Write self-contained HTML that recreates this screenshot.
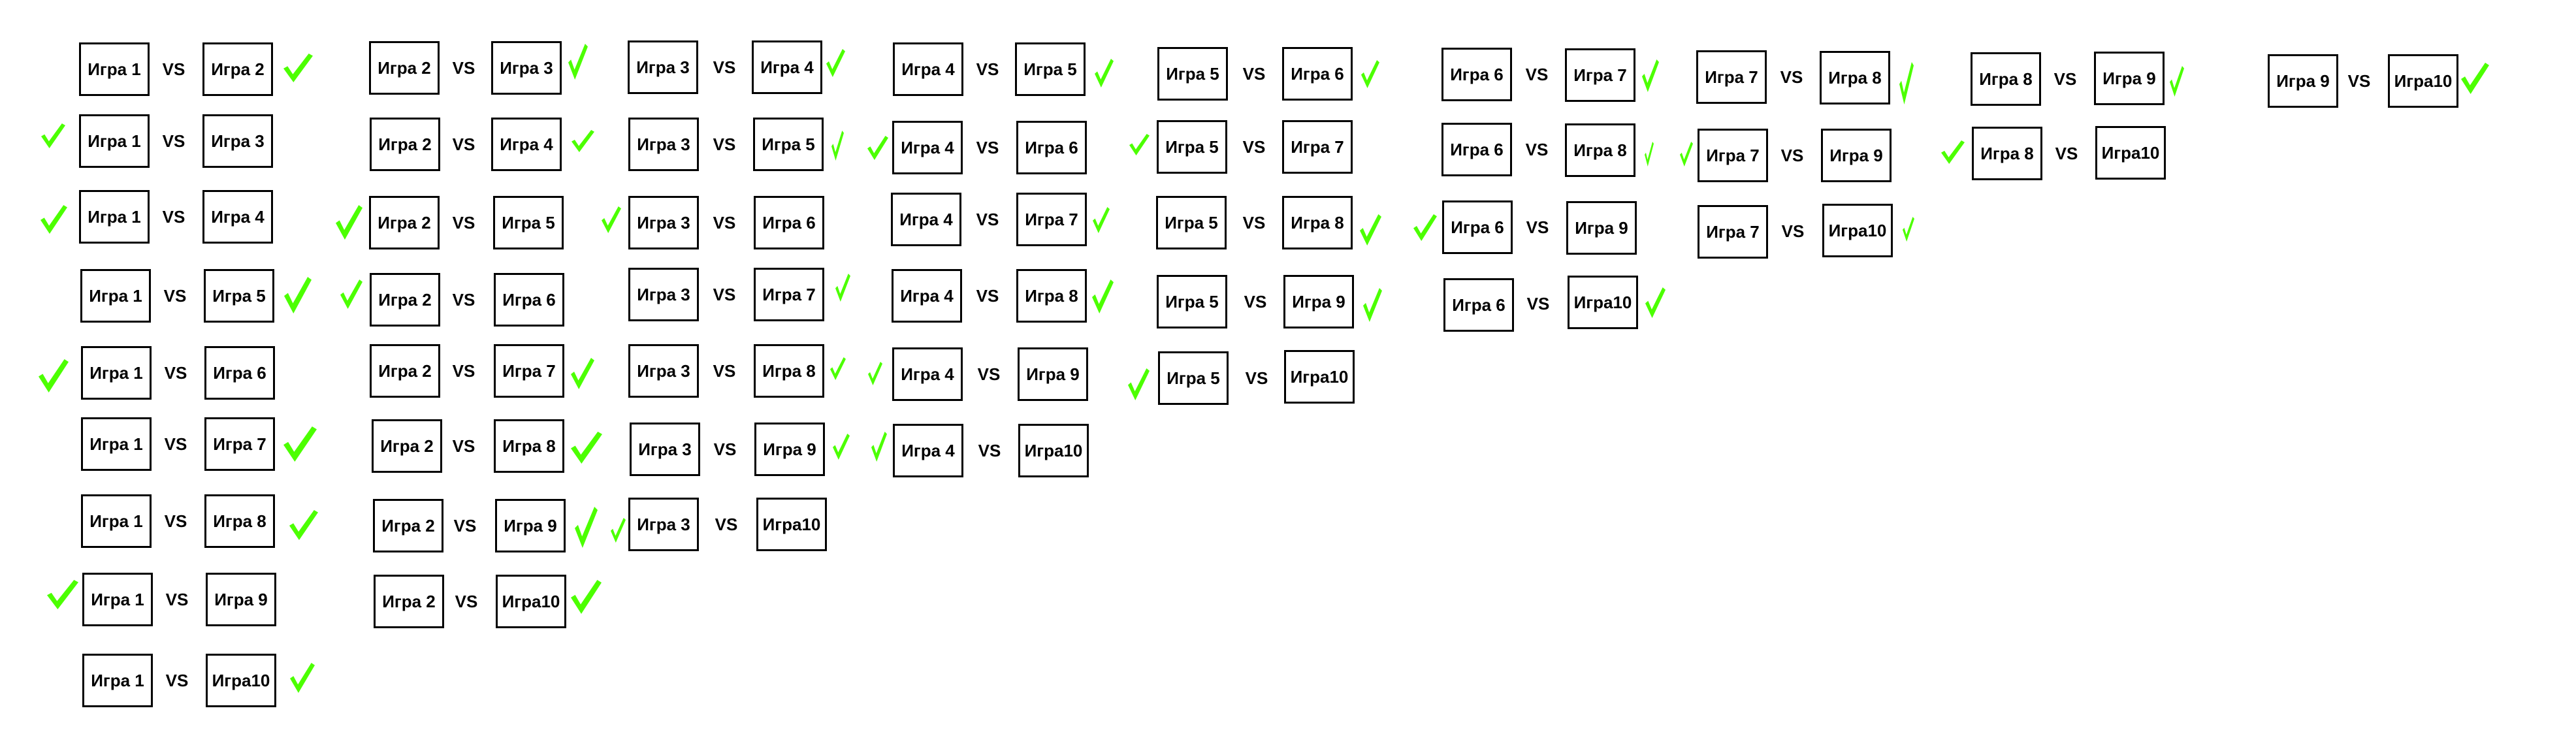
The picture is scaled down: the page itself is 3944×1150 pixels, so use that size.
<!DOCTYPE html>
<html><head><meta charset="utf-8">
<style>
html,body{margin:0;padding:0;background:#fff;}
body{width:3944px;height:1150px;position:relative;overflow:hidden;font-family:"Liberation Sans",sans-serif;}
.b{position:absolute;width:102px;height:76px;border:3px solid #000;display:flex;align-items:center;justify-content:center;font-weight:bold;font-size:26px;color:#000;white-space:nowrap;}
.v{position:absolute;width:60px;height:82px;line-height:82px;text-align:center;font-weight:bold;font-size:26px;color:#000;}
svg{position:absolute;left:0;top:0;}
</style></head><body>
<!-- col1 -->
<div class="b" style="left:121px;top:65px">Игра 1</div><div class="v" style="left:236px;top:65px">VS</div><div class="b" style="left:310px;top:65px">Игра 2</div>
<div class="b" style="left:121px;top:175px">Игра 1</div><div class="v" style="left:236px;top:175px">VS</div><div class="b" style="left:310px;top:175px">Игра 3</div>
<div class="b" style="left:121px;top:291px">Игра 1</div><div class="v" style="left:236px;top:291px">VS</div><div class="b" style="left:310px;top:291px">Игра 4</div>
<div class="b" style="left:123px;top:412px">Игра 1</div><div class="v" style="left:238px;top:412px">VS</div><div class="b" style="left:312px;top:412px">Игра 5</div>
<div class="b" style="left:124px;top:530px">Игра 1</div><div class="v" style="left:239px;top:530px">VS</div><div class="b" style="left:313px;top:530px">Игра 6</div>
<div class="b" style="left:124px;top:639px">Игра 1</div><div class="v" style="left:239px;top:639px">VS</div><div class="b" style="left:313px;top:639px">Игра 7</div>
<div class="b" style="left:124px;top:757px">Игра 1</div><div class="v" style="left:239px;top:757px">VS</div><div class="b" style="left:313px;top:757px">Игра 8</div>
<div class="b" style="left:126px;top:877px">Игра 1</div><div class="v" style="left:241px;top:877px">VS</div><div class="b" style="left:315px;top:877px">Игра 9</div>
<div class="b" style="left:126px;top:1001px">Игра 1</div><div class="v" style="left:241px;top:1001px">VS</div><div class="b" style="left:315px;top:1001px">Игра10</div>
<!-- col2 -->
<div class="b" style="left:565px;top:63px">Игра 2</div><div class="v" style="left:680px;top:63px">VS</div><div class="b" style="left:752px;top:63px">Игра 3</div>
<div class="b" style="left:566px;top:180px">Игра 2</div><div class="v" style="left:680px;top:180px">VS</div><div class="b" style="left:752px;top:180px">Игра 4</div>
<div class="b" style="left:565px;top:300px">Игра 2</div><div class="v" style="left:680px;top:300px">VS</div><div class="b" style="left:755px;top:300px">Игра 5</div>
<div class="b" style="left:566px;top:418px">Игра 2</div><div class="v" style="left:680px;top:418px">VS</div><div class="b" style="left:756px;top:418px">Игра 6</div>
<div class="b" style="left:566px;top:527px">Игра 2</div><div class="v" style="left:680px;top:527px">VS</div><div class="b" style="left:756px;top:527px">Игра 7</div>
<div class="b" style="left:569px;top:642px">Игра 2</div><div class="v" style="left:680px;top:642px">VS</div><div class="b" style="left:756px;top:642px">Игра 8</div>
<div class="b" style="left:571px;top:764px">Игра 2</div><div class="v" style="left:682px;top:764px">VS</div><div class="b" style="left:758px;top:764px">Игра 9</div>
<div class="b" style="left:572px;top:880px">Игра 2</div><div class="v" style="left:684px;top:880px">VS</div><div class="b" style="left:759px;top:880px">Игра10</div>
<!-- col3 -->
<div class="b" style="left:961px;top:62px">Игра 3</div><div class="v" style="left:1079px;top:62px">VS</div><div class="b" style="left:1151px;top:62px">Игра 4</div>
<div class="b" style="left:962px;top:180px">Игра 3</div><div class="v" style="left:1079px;top:180px">VS</div><div class="b" style="left:1153px;top:180px">Игра 5</div>
<div class="b" style="left:962px;top:300px">Игра 3</div><div class="v" style="left:1079px;top:300px">VS</div><div class="b" style="left:1154px;top:300px">Игра 6</div>
<div class="b" style="left:962px;top:410px">Игра 3</div><div class="v" style="left:1079px;top:410px">VS</div><div class="b" style="left:1154px;top:410px">Игра 7</div>
<div class="b" style="left:962px;top:527px">Игра 3</div><div class="v" style="left:1079px;top:527px">VS</div><div class="b" style="left:1154px;top:527px">Игра 8</div>
<div class="b" style="left:964px;top:647px">Игра 3</div><div class="v" style="left:1080px;top:647px">VS</div><div class="b" style="left:1155px;top:647px">Игра 9</div>
<div class="b" style="left:962px;top:762px">Игра 3</div><div class="v" style="left:1082px;top:762px">VS</div><div class="b" style="left:1158px;top:762px">Игра10</div>
<!-- col4 -->
<div class="b" style="left:1367px;top:65px">Игра 4</div><div class="v" style="left:1482px;top:65px">VS</div><div class="b" style="left:1554px;top:65px">Игра 5</div>
<div class="b" style="left:1366px;top:185px">Игра 4</div><div class="v" style="left:1482px;top:185px">VS</div><div class="b" style="left:1556px;top:185px">Игра 6</div>
<div class="b" style="left:1364px;top:295px">Игра 4</div><div class="v" style="left:1482px;top:295px">VS</div><div class="b" style="left:1556px;top:295px">Игра 7</div>
<div class="b" style="left:1365px;top:412px">Игра 4</div><div class="v" style="left:1482px;top:412px">VS</div><div class="b" style="left:1556px;top:412px">Игра 8</div>
<div class="b" style="left:1366px;top:532px">Игра 4</div><div class="v" style="left:1484px;top:532px">VS</div><div class="b" style="left:1558px;top:532px">Игра 9</div>
<div class="b" style="left:1367px;top:649px">Игра 4</div><div class="v" style="left:1485px;top:649px">VS</div><div class="b" style="left:1559px;top:649px">Игра10</div>
<!-- col5 -->
<div class="b" style="left:1772px;top:72px">Игра 5</div><div class="v" style="left:1890px;top:72px">VS</div><div class="b" style="left:1963px;top:72px">Игра 6</div>
<div class="b" style="left:1771px;top:184px">Игра 5</div><div class="v" style="left:1890px;top:184px">VS</div><div class="b" style="left:1963px;top:184px">Игра 7</div>
<div class="b" style="left:1770px;top:300px">Игра 5</div><div class="v" style="left:1890px;top:300px">VS</div><div class="b" style="left:1963px;top:300px">Игра 8</div>
<div class="b" style="left:1771px;top:421px">Игра 5</div><div class="v" style="left:1892px;top:421px">VS</div><div class="b" style="left:1965px;top:421px">Игра 9</div>
<div class="b" style="left:1773px;top:538px">Игра 5</div><div class="v" style="left:1894px;top:538px">VS</div><div class="b" style="left:1966px;top:536px">Игра10</div>
<!-- col6 -->
<div class="b" style="left:2207px;top:73px">Игра 6</div><div class="v" style="left:2323px;top:73px">VS</div><div class="b" style="left:2396px;top:74px">Игра 7</div>
<div class="b" style="left:2207px;top:188px">Игра 6</div><div class="v" style="left:2323px;top:188px">VS</div><div class="b" style="left:2396px;top:189px">Игра 8</div>
<div class="b" style="left:2208px;top:307px">Игра 6</div><div class="v" style="left:2324px;top:307px">VS</div><div class="b" style="left:2398px;top:308px">Игра 9</div>
<div class="b" style="left:2210px;top:426px">Игра 6</div><div class="v" style="left:2325px;top:424px">VS</div><div class="b" style="left:2400px;top:422px">Игра10</div>
<!-- col7 -->
<div class="b" style="left:2597px;top:77px">Игра 7</div><div class="v" style="left:2713px;top:77px">VS</div><div class="b" style="left:2786px;top:78px">Игра 8</div>
<div class="b" style="left:2599px;top:197px">Игра 7</div><div class="v" style="left:2714px;top:197px">VS</div><div class="b" style="left:2788px;top:197px">Игра 9</div>
<div class="b" style="left:2599px;top:314px">Игра 7</div><div class="v" style="left:2715px;top:313px">VS</div><div class="b" style="left:2790px;top:312px">Игра10</div>
<!-- col8 -->
<div class="b" style="left:3017px;top:80px">Игра 8</div><div class="v" style="left:3132px;top:80px">VS</div><div class="b" style="left:3206px;top:79px">Игра 9</div>
<div class="b" style="left:3019px;top:194px">Игра 8</div><div class="v" style="left:3134px;top:194px">VS</div><div class="b" style="left:3208px;top:193px">Игра10</div>
<!-- col9 -->
<div class="b" style="left:3472px;top:83px">Игра 9</div><div class="v" style="left:3582px;top:83px">VS</div><div class="b" style="left:3656px;top:83px">Игра10</div>

<svg width="3944" height="1150" xmlns="http://www.w3.org/2000/svg">
<defs><symbol id="ck" viewBox="0 0 100 100" preserveAspectRatio="none"><polygon points="0,52 14,44 32,72 86,0 100,8 34,100" fill="#4cff00"/></symbol></defs>
<use href="#ck" x="434" y="82" width="45" height="44"/>
<use href="#ck" x="63" y="189" width="37" height="38"/>
<use href="#ck" x="62" y="314" width="41" height="44"/>
<use href="#ck" x="435" y="424" width="42" height="56"/>
<use href="#ck" x="59" y="550" width="46" height="51"/>
<use href="#ck" x="434" y="653" width="51" height="54"/>
<use href="#ck" x="443" y="781" width="44" height="46"/>
<use href="#ck" x="72" y="888" width="48" height="45"/>
<use href="#ck" x="444" y="1015" width="38" height="46"/>
<use href="#ck" x="870" y="67" width="30" height="55"/>
<use href="#ck" x="875" y="199" width="35" height="34"/>
<use href="#ck" x="514" y="314" width="41" height="53"/>
<use href="#ck" x="521" y="428" width="34" height="45"/>
<use href="#ck" x="874" y="548" width="36" height="48"/>
<use href="#ck" x="874" y="661" width="48" height="49"/>
<use href="#ck" x="880" y="776" width="35" height="63"/>
<use href="#ck" x="935" y="793" width="23" height="38"/>
<use href="#ck" x="874" y="888" width="47" height="52"/>
<use href="#ck" x="1265" y="75" width="29" height="43"/>
<use href="#ck" x="1273" y="200" width="19" height="46"/>
<use href="#ck" x="1328" y="208" width="32" height="37"/>
<use href="#ck" x="921" y="316" width="30" height="41"/>
<use href="#ck" x="1279" y="419" width="23" height="43"/>
<use href="#ck" x="1271" y="547" width="24" height="35"/>
<use href="#ck" x="1329" y="554" width="22" height="36"/>
<use href="#ck" x="1275" y="664" width="26" height="40"/>
<use href="#ck" x="1334" y="661" width="24" height="46"/>
<use href="#ck" x="1676" y="90" width="29" height="44"/>
<use href="#ck" x="1673" y="317" width="26" height="40"/>
<use href="#ck" x="1672" y="428" width="33" height="52"/>
<use href="#ck" x="2084" y="92" width="28" height="43"/>
<use href="#ck" x="1729" y="205" width="31" height="33"/>
<use href="#ck" x="2082" y="328" width="33" height="48"/>
<use href="#ck" x="2164" y="328" width="36" height="41"/>
<use href="#ck" x="2087" y="441" width="29" height="52"/>
<use href="#ck" x="1727" y="564" width="33" height="49"/>
<use href="#ck" x="2514" y="91" width="26" height="50"/>
<use href="#ck" x="2518" y="217" width="14" height="38"/>
<use href="#ck" x="2519" y="440" width="31" height="47"/>
<use href="#ck" x="2908" y="95" width="22" height="65"/>
<use href="#ck" x="2572" y="217" width="20" height="38"/>
<use href="#ck" x="2913" y="332" width="18" height="38"/>
<use href="#ck" x="3322" y="101" width="22" height="47"/>
<use href="#ck" x="2972" y="215" width="36" height="36"/>
<use href="#ck" x="3768" y="96" width="43" height="48"/>
</svg>
</body></html>
